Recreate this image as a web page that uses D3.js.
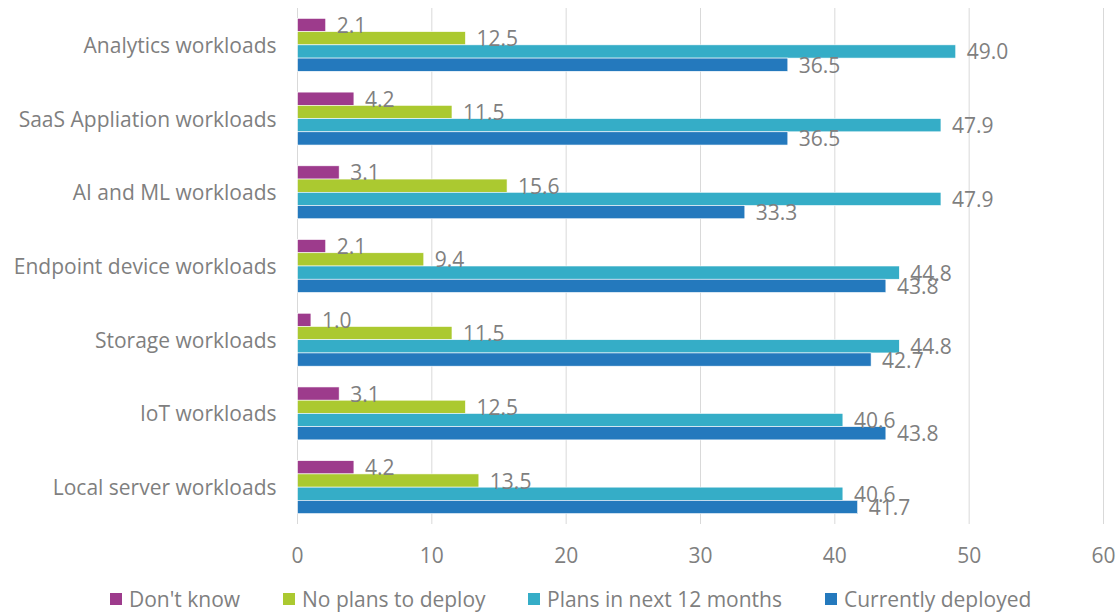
<!DOCTYPE html>
<html>
<head>
<meta charset="utf-8">
<script src="https://cdn.jsdelivr.net/npm/d3@7"></script>
<style>
  body { margin: 0; background: #fff; }
  svg { display: block; font-family: "Open Sans", sans-serif; }
  .grid line { stroke: #d9d9d9; stroke-width: 1; }
  .lbl { fill: #7f7f7f; font-size: 21px; }
</style>
</head>
<body>
<svg width="1118" height="612"></svg>
<script>
const categories = ["Analytics workloads", "SaaS Appliation workloads", "AI and ML workloads",
  "Endpoint device workloads", "Storage workloads", "IoT workloads", "Local server workloads"];
const seriesNames = ["Don't know", "No plans to deploy", "Plans in next 12 months", "Currently deployed"];
const seriesColors = ["#9d3b8c", "#abc930", "#35adc7", "#2479bd"];
const dontKnow = [2.1, 4.2, 3.1, 2.1, 1.0, 3.1, 4.2];
const noPlans = [12.5, 11.5, 15.6, 9.4, 11.5, 12.5, 13.5];
const plansNext = [49.0, 47.9, 47.9, 44.8, 44.8, 40.6, 40.6];
const currently = [36.5, 36.5, 33.3, 43.8, 42.7, 43.8, 41.7];
const xTicks = [0, 10, 20, 30, 40, 50, 60];

const seriesValues = [dontKnow, noPlans, plansNext, currently];

const margin = { top: 8, left: 297.5, right: 14.5, bottom: 88 },
      width = 1118 - margin.left - margin.right,
      height = 612 - margin.top - margin.bottom;

const svg = d3.select("svg");
const g = svg.append("g").attr("transform", `translate(${margin.left},${margin.top})`);

const x = d3.scaleLinear().domain([0, 60]).range([0, width]);
const y = d3.scaleBand().domain(categories).range([0, height])
  .paddingInner(0.282).paddingOuter(0.141);
const ySub = d3.scaleBand().domain(seriesNames).range([0, y.bandwidth()]);

// gridlines
g.append("g").attr("class", "grid")
  .selectAll("line").data(xTicks).enter().append("line")
  .attr("x1", d => x(d)).attr("x2", d => x(d))
  .attr("y1", 0).attr("y2", height);

// tick labels
g.append("g").selectAll("text").data(xTicks).enter().append("text")
  .attr("class", "lbl")
  .attr("x", d => x(d)).attr("y", height + 31)
  .attr("text-anchor", "middle").attr("dominant-baseline", "central")
  .text(d => d);

// category labels
g.append("g").selectAll("text").data(categories).enter().append("text")
  .attr("class", "lbl")
  .attr("x", -21).attr("y", d => y(d) + y.bandwidth() / 2)
  .attr("text-anchor", "end").attr("dominant-baseline", "central")
  .text(d => d);

// bars
const rows = [];
categories.forEach((c, i) => {
  seriesNames.forEach((s, j) => rows.push({ cat: c, series: s, idx: j, value: seriesValues[j][i] }));
});

g.append("g").selectAll("rect").data(rows).enter().append("rect")
  .attr("x", x(0))
  .attr("y", d => y(d.cat) + ySub(d.series))
  .attr("width", d => x(d.value) - x(0))
  .attr("height", ySub.bandwidth())
  .attr("fill", d => seriesColors[d.idx])
  .attr("stroke", "#fff").attr("stroke-width", 0.6);

// value labels
g.append("g").selectAll("text").data(rows).enter().append("text")
  .attr("class", "lbl")
  .attr("x", d => x(d.value) + 11)
  .attr("y", d => y(d.cat) + ySub(d.series) + ySub.bandwidth() / 2)
  .attr("dominant-baseline", "central")
  .text(d => d.value.toFixed(1));

// legend
const legendX = [110, 283, 528, 825];
const legend = svg.append("g").selectAll("g").data(seriesNames).enter().append("g")
  .attr("transform", (d, i) => `translate(${legendX[i]},599)`);
legend.append("rect")
  .attr("x", 0).attr("y", -6).attr("width", 12).attr("height", 12)
  .attr("fill", (d, i) => seriesColors[i]);
legend.append("text")
  .attr("class", "lbl")
  .attr("x", 19).attr("y", 0)
  .attr("dominant-baseline", "central")
  .text(d => d);
</script>
</body>
</html>
